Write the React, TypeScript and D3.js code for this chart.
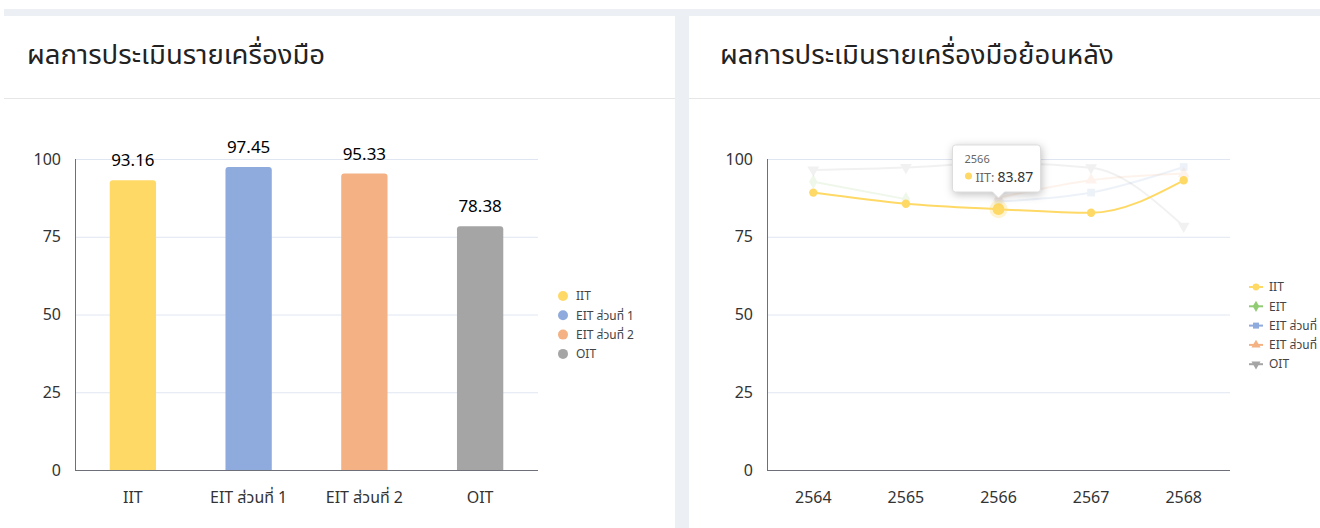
import React, { useEffect, useRef } from 'react';
import * as d3 from 'd3';

// bar chart: current year per instrument
const instruments = ['IIT', 'EIT ส่วนที่ 1', 'EIT ส่วนที่ 2', 'OIT'];
const scores = [93.16, 97.45, 95.33, 78.38];
const barColors = ['#ffd966', '#8faadc', '#f4b183', '#a5a5a5'];

// line chart: history
const years = ['2564', '2565', '2566', '2567', '2568'];
const seriesNames = ['IIT', 'EIT', 'EIT ส่วนที่ 1', 'EIT ส่วนที่ 2', 'OIT'];
const iitValues = [89.2, 85.6, 83.87, 82.7, 93.16];
const eitValues = [92.7, 87.1, null, null, null];
const eit1Values = [null, null, 86.3, 89.2, 97.45];
const eit2Values = [null, null, 87.5, 93.2, 95.33];
const oitValues = [96.5, 97.3, 98.7, 97.2, 78.38];
const lineColors = ['#ffd966', '#91cc75', '#8faadc', '#f4b183', '#a5a5a5'];
const symbols = [d3.symbolCircle, d3.symbolDiamond, d3.symbolSquare, d3.symbolTriangle, d3.symbolTriangle];
const yTicks = [0, 25, 50, 75, 100];

const FONT = '"Noto Sans Thai", "Noto Sans", "Open Sans", sans-serif';

export default function App() {
  const ref = useRef<SVGSVGElement>(null);

  useEffect(() => {
    document.body.style.margin = '0';
    const svg = d3.select(ref.current);
    svg.selectAll('*').remove();
    svg.style('font-family', FONT);

    // page + cards
    svg.append('rect').attr('width', 1320).attr('height', 528).attr('fill', '#fff');
    svg.append('rect').attr('x', 4).attr('y', 9).attr('width', 1316).attr('height', 7).attr('fill', '#eceff4');
    svg.append('rect').attr('x', 675).attr('y', 9).attr('width', 14).attr('height', 519).attr('fill', '#eceff4');
    [[4, 675], [689, 1320]].forEach(([a, b]) =>
      svg.append('line').attr('x1', a).attr('x2', b).attr('y1', 98.5).attr('y2', 98.5).attr('stroke', '#e6e6e6'));
    svg.append('text').attr('x', 27).attr('y', 64).attr('font-size', 27.5).attr('fill', '#222').text('ผลการประเมินรายเครื่องมือ');
    svg.append('text').attr('x', 720).attr('y', 64).attr('font-size', 27.5).attr('fill', '#222').text('ผลการประเมินรายเครื่องมือย้อนหลัง');

    const y = d3.scaleLinear().domain([0, 100]).range([470, 159]);

    const drawYAxis = (g: any, x0: number, x1: number) => {
      yTicks.forEach((t) => {
        if (t > 0) g.append('line').attr('x1', x0).attr('x2', x1).attr('y1', y(t) + 0.5).attr('y2', y(t) + 0.5).attr('stroke', '#e0e6f1');
        g.append('text').attr('x', x0 - 14).attr('y', y(t)).attr('dy', '0.35em').attr('text-anchor', 'end')
          .attr('font-size', 16).attr('fill', '#333').text(t);
      });
      g.append('line').attr('x1', x0 + 0.5).attr('x2', x0 + 0.5).attr('y1', y(100)).attr('y2', y(0)).attr('stroke', '#6e7079');
      g.append('line').attr('x1', x0).attr('x2', x1).attr('y1', y(0) + 0.5).attr('y2', y(0) + 0.5).attr('stroke', '#6e7079');
    };

    // ---- bar chart
    const gb = svg.append('g');
    drawYAxis(gb, 75, 538);
    const xb = d3.scaleBand().domain(instruments).range([75, 538]).paddingInner(0).paddingOuter(0);
    const bw = xb.bandwidth() * 0.4;
    instruments.forEach((name, i) => {
      const cx = (xb(name) as number) + xb.bandwidth() / 2;
      const top = y(scores[i]);
      gb.append('path')
        .attr('d', `M${cx - bw / 2},${y(0)}V${top + 3}Q${cx - bw / 2},${top} ${cx - bw / 2 + 3},${top}H${cx + bw / 2 - 3}Q${cx + bw / 2},${top} ${cx + bw / 2},${top + 3}V${y(0)}Z`)
        .attr('fill', barColors[i]);
      gb.append('text').attr('x', cx).attr('y', top - 14).attr('text-anchor', 'middle').attr('font-size', 17).attr('fill', '#000').text(scores[i].toFixed(2));
      gb.append('text').attr('x', cx).attr('y', 497).attr('dy', '0.35em').attr('text-anchor', 'middle').attr('font-size', 16).attr('fill', '#333').text(name);
    });
    instruments.forEach((name, i) => {
      const ly = 296 + i * 19.3;
      gb.append('circle').attr('cx', 563).attr('cy', ly).attr('r', 5).attr('fill', barColors[i]);
      gb.append('text').attr('x', 576).attr('y', ly).attr('dy', '0.35em').attr('font-size', 12).attr('fill', '#444').text(name);
    });

    // ---- line chart
    const gl = svg.append('g');
    drawYAxis(gl, 767, 1230);
    const xl = d3.scaleBand().domain(years).range([767, 1230]);
    const px = (yr: string) => (xl(yr) as number) + xl.bandwidth() / 2;
    years.forEach((yr) => {
      gl.append('text').attr('x', px(yr)).attr('y', 497).attr('dy', '0.35em').attr('text-anchor', 'middle').attr('font-size', 16).attr('fill', '#333').text(yr);
    });
    const allSeries = [iitValues, eitValues, eit1Values, eit2Values, oitValues];
    const line = d3.line<[string, number | null]>()
      .defined((d) => d[1] != null)
      .x((d) => px(d[0]))
      .y((d) => y(d[1] as number))
      .curve(d3.curveMonotoneX);
    const symFor = (i: number, size: number) => d3.symbol().type(symbols[i]).size(size)() as string;
    // faded series first, then highlighted IIT
    [1, 2, 3, 4, 0].forEach((i) => {
      const data = years.map((yr, k) => [yr, allSeries[i][k]] as [string, number | null]);
      const op = i === 0 ? 1 : 0.15;
      const sg = gl.append('g').attr('opacity', op);
      sg.append('path').attr('d', line(data) as string).attr('fill', 'none').attr('stroke', lineColors[i]).attr('stroke-width', 2);
      data.forEach(([yr, v], k) => {
        if (v == null) return;
        const hl = i === 0 && k === 2;
        if (hl) sg.append('circle').attr('cx', px(yr)).attr('cy', y(v)).attr('r', 9).attr('fill', lineColors[i]).attr('opacity', 0.3);
        sg.append('path')
          .attr('transform', `translate(${px(yr)},${y(v)})${i === 4 ? ' rotate(180)' : ''}`)
          .attr('d', symFor(i, hl ? 110 : i === 0 ? 55 : 60))
          .attr('fill', lineColors[i]);
      });
    });

    // legend (clipped at the right edge, as in the source)
    seriesNames.forEach((name, i) => {
      const ly = 287 + i * 19.3;
      gl.append('line').attr('x1', 1249).attr('x2', 1263).attr('y1', ly).attr('y2', ly).attr('stroke', lineColors[i]).attr('stroke-width', 2);
      gl.append('path').attr('transform', `translate(1256,${ly})${i === 4 ? ' rotate(180)' : ''}`).attr('d', symFor(i, 36)).attr('fill', lineColors[i]);
      gl.append('text').attr('x', 1269).attr('y', ly).attr('dy', '0.35em').attr('font-size', 12).attr('fill', '#444').text(name);
    });

    // tooltip
    const tx = px('2566');
    const tip = svg.append('g');
    const bx = tx - 46, bwid = 88, by = 145, bh = 47;
    tip.append('path')
      .attr('d', `M${bx + 3},${by}H${bx + bwid - 3}Q${bx + bwid},${by} ${bx + bwid},${by + 3}V${by + bh - 3}Q${bx + bwid},${by + bh} ${bx + bwid - 3},${by + bh}H${tx + 6}L${tx},${by + bh + 6}L${tx - 6},${by + bh}H${bx + 3}Q${bx},${by + bh} ${bx},${by + bh - 3}V${by + 3}Q${bx},${by} ${bx + 3},${by}Z`)
      .attr('fill', '#fff').attr('stroke', '#ddd').attr('stroke-width', 1)
      .style('filter', 'drop-shadow(1px 2px 4px rgba(0,0,0,0.25))');
    tip.append('text').attr('x', bx + 12).attr('y', by + 18).attr('font-size', 11).attr('fill', '#666').text('2566');
    tip.append('circle').attr('cx', bx + 16).attr('cy', by + 31).attr('r', 3.5).attr('fill', lineColors[0]);
    const t2 = tip.append('text').attr('x', bx + 23).attr('y', by + 31).attr('dy', '0.35em').attr('fill', '#666');
    t2.append('tspan').attr('font-size', 12.5).text('IIT: ');
    t2.append('tspan').attr('font-size', 14).attr('fill', '#333').text(iitValues[2].toFixed(2));
  }, []);

  return <svg ref={ref} width={1320} height={528} style={{ display: 'block' }} />;
}
